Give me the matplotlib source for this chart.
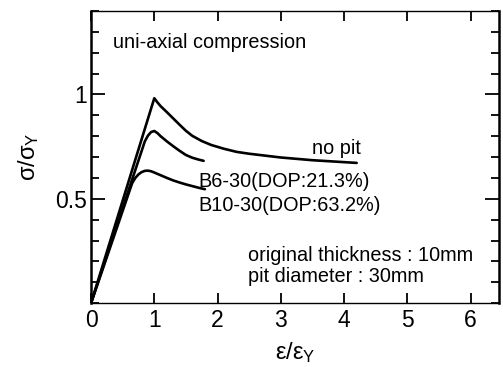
import matplotlib
matplotlib.use("Agg")
import matplotlib.pyplot as plt
from matplotlib.ticker import MultipleLocator

plt.rcParams["font.family"] = ["Liberation Sans", "DejaVu Sans"]
plt.rcParams["mathtext.fontset"] = "custom"
plt.rcParams["mathtext.rm"] = "Liberation Sans"
plt.rcParams["mathtext.it"] = "Liberation Sans"

# strain / yield strain vs stress / yield stress
nopit_x = [0, 1.0, 1.05, 1.1, 1.2, 1.3, 1.4, 1.5, 1.6, 1.75, 1.9, 2.1, 2.3, 2.5, 2.75, 3.0, 3.5, 4.2]
nopit_y = [0, 0.982, 0.962, 0.944, 0.915, 0.885, 0.855, 0.826, 0.802, 0.777, 0.758, 0.74, 0.725,
           0.716, 0.707, 0.698, 0.685, 0.672]
b6_x = [0, 0.85, 0.9, 0.95, 1.0, 1.05, 1.1, 1.2, 1.3, 1.4, 1.5, 1.6, 1.7, 1.78]
b6_y = [0, 0.775, 0.803, 0.82, 0.825, 0.815, 0.80, 0.775, 0.752, 0.73, 0.71, 0.697, 0.688, 0.682]
b10_x = [0, 0.65, 0.7, 0.75, 0.8, 0.85, 0.9, 0.95, 1.0, 1.1, 1.2, 1.3, 1.4, 1.5, 1.6, 1.7, 1.8]
b10_y = [0, 0.575, 0.6, 0.617, 0.628, 0.634, 0.635, 0.632, 0.626, 0.613, 0.6, 0.588, 0.578,
         0.569, 0.561, 0.553, 0.546]

xticks = [0, 1, 2, 3, 4, 5, 6]
yticks = [0.5, 1]

fig = plt.figure(figsize=(5.03, 3.67), dpi=100)
ax = fig.add_axes([0.181, 0.174, 0.811, 0.796])

for xs, ys in [(nopit_x, nopit_y), (b6_x, b6_y), (b10_x, b10_y)]:
    ax.plot(xs, ys, color="black", lw=1.9, solid_joinstyle="round", solid_capstyle="round")

ax.set_xlim(0, 6.45)
ax.set_ylim(0, 1.4)
ax.set_xticks(xticks)
ax.set_xticklabels([str(t) for t in xticks])
ax.set_yticks(yticks)
ax.set_yticklabels(["0.5", "1"])
ax.yaxis.set_minor_locator(MultipleLocator(0.1))

ax.tick_params(axis="both", which="both", direction="in", top=True, right=True,
               labelsize=16.5, width=1.3)
ax.tick_params(axis="y", which="major", length=10, pad=3)
ax.tick_params(axis="y", which="minor", length=6)
ax.tick_params(axis="x", which="major", length=7, pad=4)

ax.spines["left"].set_linewidth(1.8)
ax.spines["right"].set_linewidth(1.8)
ax.spines["top"].set_linewidth(1.0)
ax.spines["bottom"].set_linewidth(1.0)

ax.set_xlabel(r"$\varepsilon/\varepsilon_{\rm Y}$", fontsize=17, labelpad=6)
ax.set_ylabel(r"$\sigma/\sigma_{\rm Y}$", fontsize=17, labelpad=10)

fs = 14.3
ax.text(0.35, 1.25, "uni-axial compression", fontsize=fs, ha="left", va="center")
ax.text(4.27, 0.74, "no pit", fontsize=fs, ha="right", va="center")
ax.text(1.69, 0.584, "B6-30(DOP:21.3%)", fontsize=fs, ha="left", va="center")
ax.text(1.69, 0.469, "B10-30(DOP:63.2%)", fontsize=fs, ha="left", va="center")
ax.text(2.48, 0.23, "original thickness : 10mm", fontsize=fs, ha="left", va="center")
ax.text(2.48, 0.13, "pit diameter : 30mm", fontsize=fs, ha="left", va="center")

fig.savefig("out.png", dpi=100)
